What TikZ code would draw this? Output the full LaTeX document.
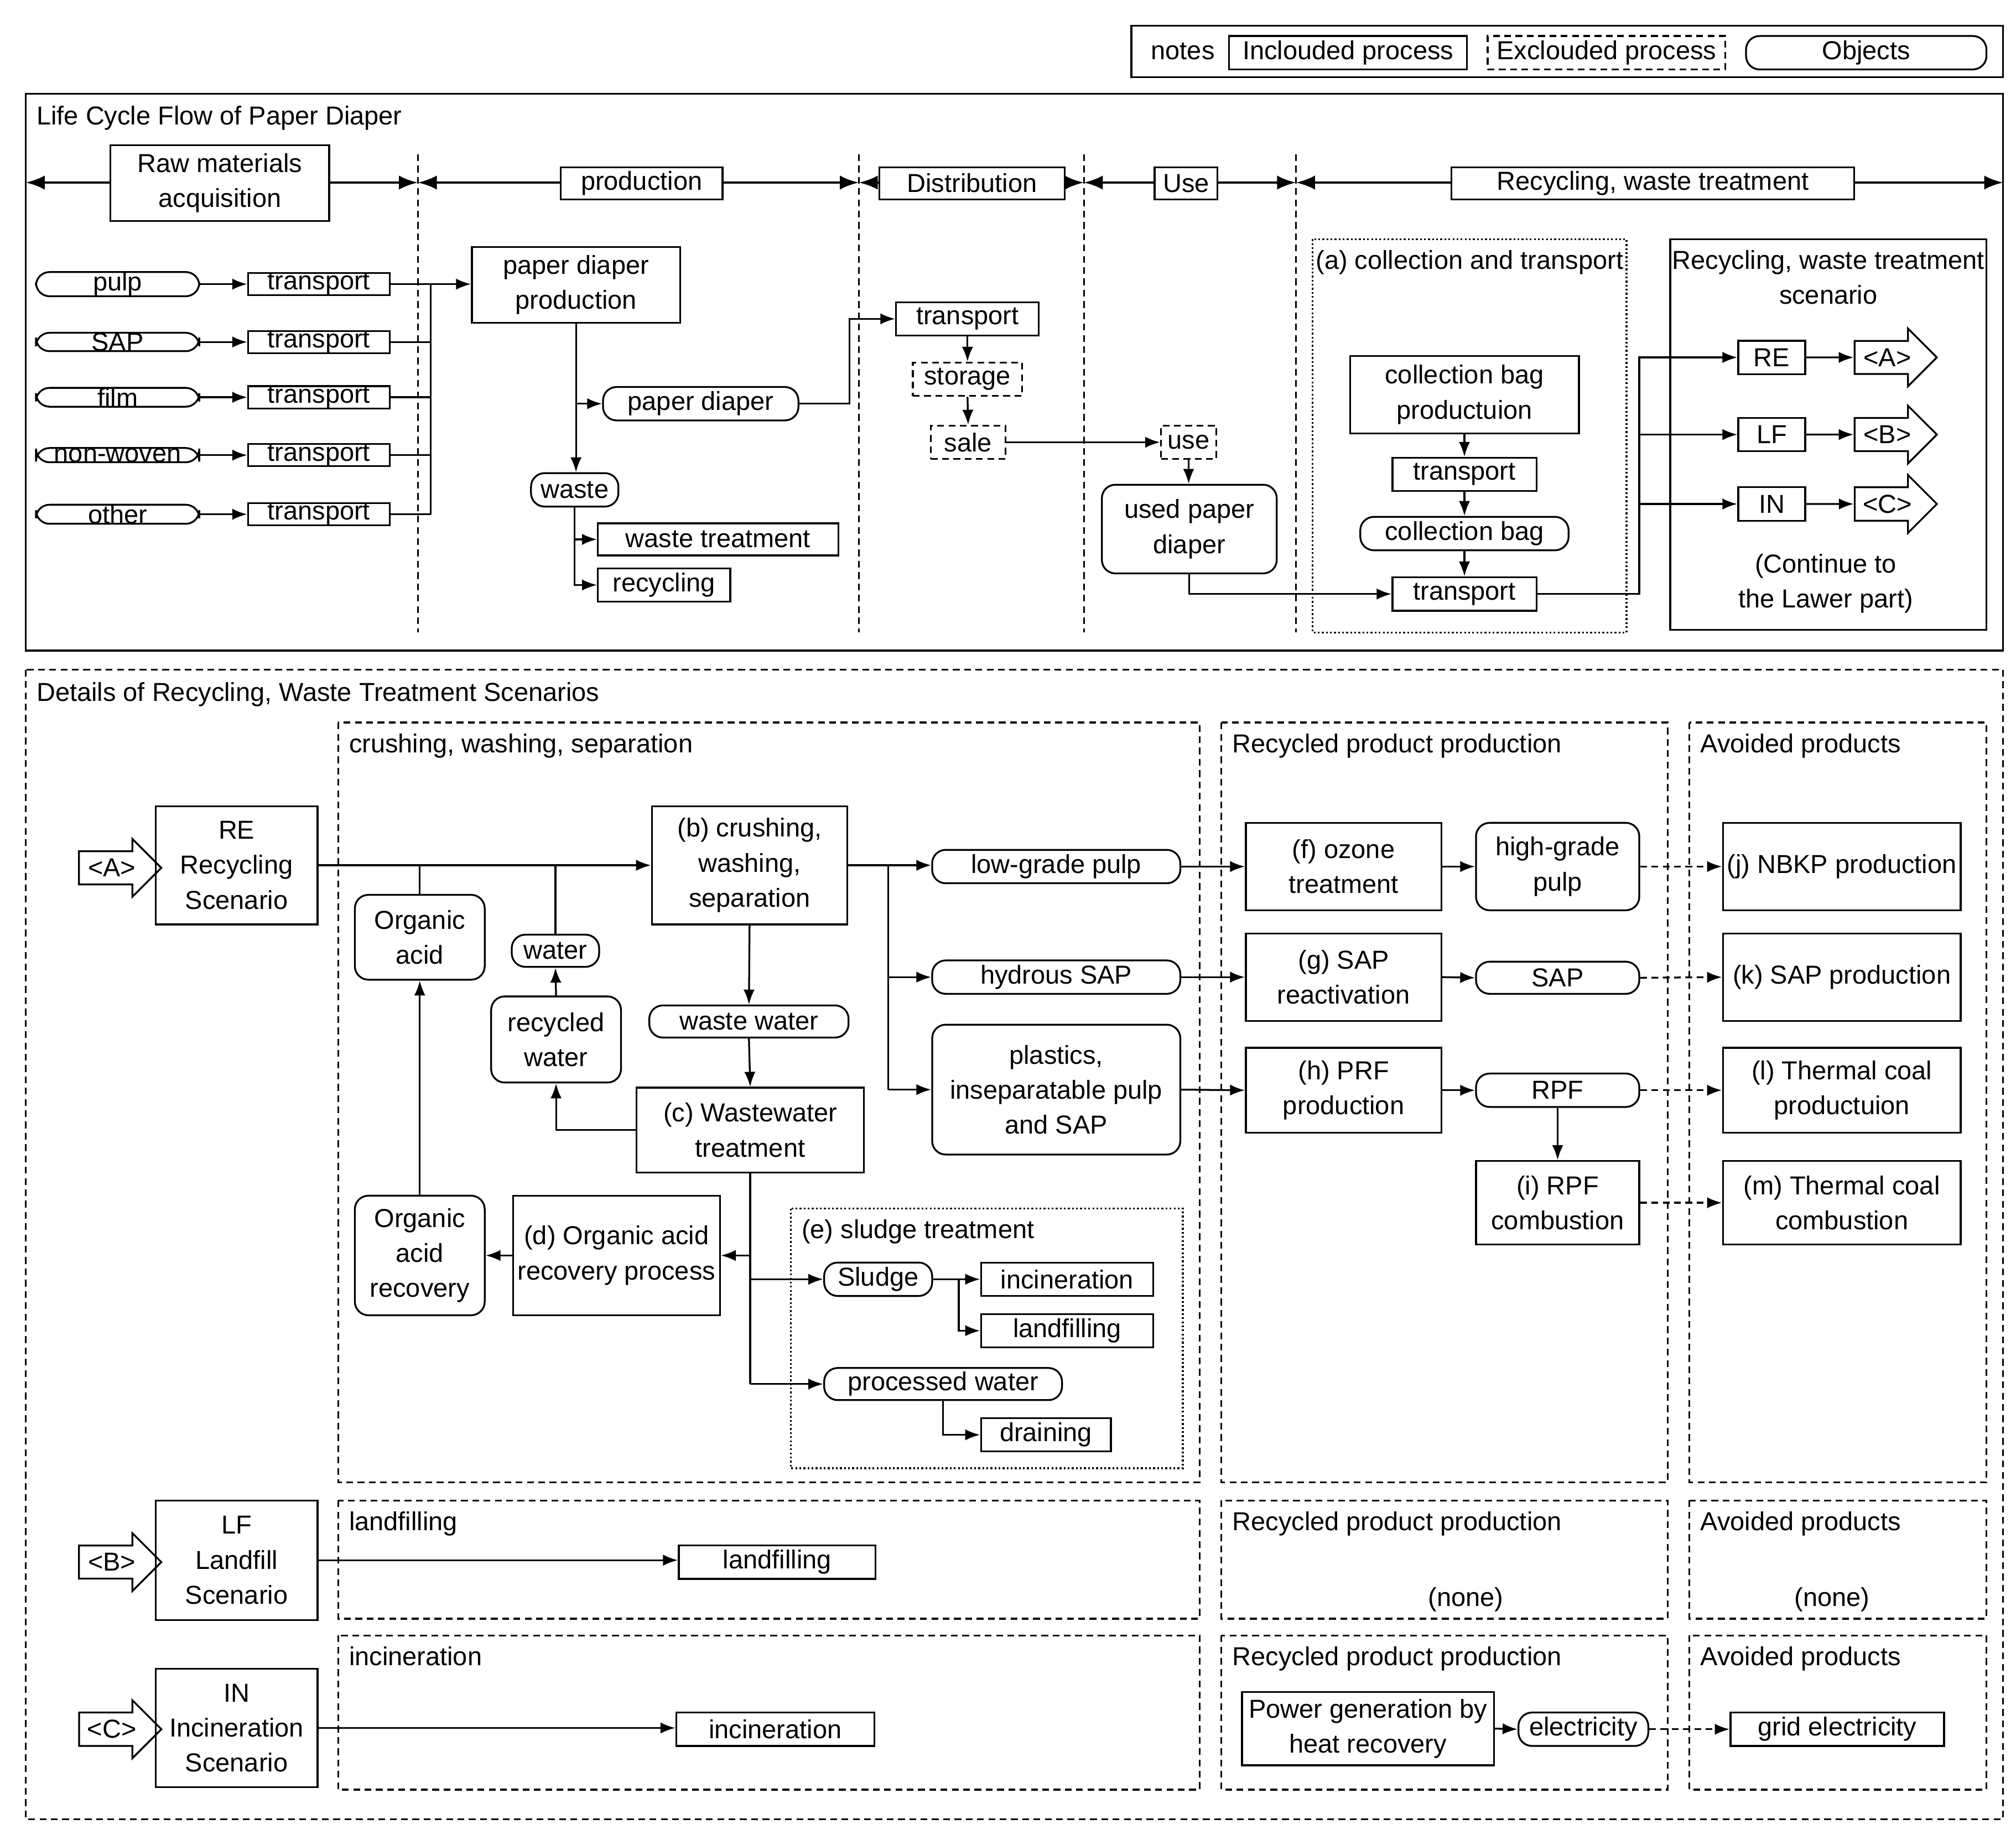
\documentclass[tikz,border=0pt]{standalone}
\usepackage{fontspec}
\setmainfont{Liberation Sans}
\usetikzlibrary{positioning, arrows.meta, shapes.arrows}

\tikzset{
  box/.style={draw, inner sep=0pt, align=center},
  bb/.style args={#1/#2/#3/#4}{minimum width={(#3-#1)*0.02cm}, minimum height={(#4-#2)*0.02cm},
                               at={({(#1+#3)/2},{(#2+#4)/2})}},
  inc/.style={box},
  exc/.style={box, densely dashed},
  obj/.style={box, rounded corners=6pt},
  arr/.style={-Latex},
  darr/.style={-Latex, densely dashed},
  sarrow/.style={draw, fill=white, single arrow, single arrow head extend=4pt,
                 minimum height=1.28cm, minimum width=0.9cm, inner sep=1pt},
}

\begin{document}
\begin{tikzpicture}[x=0.02cm, y=-0.02cm, line width=0.8pt,
                    every node/.style={font=\fontsize{11.5}{15.5}\selectfont}]
\useasboundingbox (0,0) rectangle (1568,1431);

% legend
\draw (880,20) rectangle (1558,60);
\node at (920,40) {notes};
\node[inc, bb=956/28/1141/54] (lgi) {Inclouded process};
\node[exc, bb=1157/28/1342/54] (lge) {Exclouded process};
\node[obj, bb=1358/28/1545/54] (lgo) {Objects};

% upper part
\draw (20,73) rectangle (1558,506);
\node[anchor=north west] at (22,76) {Life Cycle Flow of Paper Diaper};
\foreach \a/\b in {20/325, 325/668, 668/843, 843/1008, 1008/1558}
  \draw[Latex-Latex, line width=1.2pt] (\a,142) -- (\b,142);
\foreach \x in {325,668,843,1008}
  \draw[densely dashed] (\x,120) -- (\x,492);
\node[inc, fill=white, bb=86/113/256/172] (st1) {Raw materials\\acquisition};
\node[inc, fill=white, bb=436/130/562/155] (st2) {production};
\node[inc, fill=white, bb=684/130/828/155] (st3) {Distribution};
\node[inc, fill=white, bb=898/130/947/155] (st4) {Use};
\node[inc, fill=white, bb=1129/130/1442/155] (st5) {Recycling, waste treatment};

% raw materials
\foreach \t/\y [count=\i] in {pulp/221, SAP/266, film/309, non-woven/354, other/400} {
  \node[obj, bb=28/\y-13/155/\y+13] (raw\i) {\t};
  \node[inc, bb=193/\y-13/303/\y+13] (tr\i) {transport};
  \draw[arr] (raw\i) -- (tr\i);
  \draw (tr\i.east) -- (335,\y);
}
\coordinate (bus) at (335,221);
\draw (bus) -- (335,400);

% production
\node[inc, bb=367/192/529/251] (prod) {paper diaper\\production};
\draw[arr] (bus) -- (prod.west|-bus);
\node[obj, bb=469/301/621/327] (pd) {paper diaper};
\node[obj, bb=413/368/481/394] (waste) {waste};
\draw[arr] (prod.south) -- (prod.south|-waste.north);
\draw[arr] (prod.south|-pd) -- (pd.west);
\node[inc, bb=465/407/652/432] (wt) {waste treatment};
\node[inc, bb=465/442/568/468] (rec) {recycling};
\draw[arr] (waste.south) |- (rec.west);
\draw[arr] (waste.south|-wt) -- (wt.west);

% distribution and use
\node[inc, bb=697/235/808/261] (tr6) {transport};
\draw[arr] (pd.east) -- ++(39,0) |- (tr6.west);
\node[exc, bb=710/282/795/308] (stor) {storage};
\node[exc, bb=724/331/782/357] (sale) {sale};
\draw[arr] (tr6.south) -- (stor.north);
\draw[arr] (stor.south) -- (sale.north);
\node[exc, bb=903/331/946/357] (use) {use};
\draw[arr] (sale.east) -- (use.west);
\node[obj, bb=857/377/993/446] (used) {used paper\\diaper};
\draw[arr] (use.south) -- (use.south|-used.north);

% collection
\draw[densely dotted] (1021,186) rectangle (1265,492);
\node[anchor=north] at (1143,188) {(a) collection and transport};
\node[inc, bb=1050/277/1228/337] (cbp) {collection bag\\productuion};
\node[inc, bb=1083/356/1195/382] (tr7) {transport};
\node[obj, bb=1058/402/1220/428] (cbag) {collection bag};
\node[inc, bb=1083/449/1195/475] (tr9) {transport};
\draw[arr] (cbp.south) -- (tr7.north);
\draw[arr] (tr7.south) -- (cbag.north);
\draw[arr] (cbag.south) -- (tr9.north);
\draw[arr] (used.south) |- (tr9.west);

% scenarios
\draw (1299,186) rectangle (1545,490);
\node[anchor=north, align=center] at (1422,188) {Recycling, waste treatment\\scenario};
\node[inc, bb=1352/265/1404/291] (reT) {RE};
\node[inc, bb=1352/325/1404/351] (lfT) {LF};
\node[inc, bb=1352/379/1404/405] (inT) {IN};
\coordinate (sb) at (1275,462);
\draw[arr] (tr9.east) -- (sb) |- (reT.west);
\draw[arr] (sb|-lfT) -- (lfT.west);
\draw[arr] (sb|-inT) -- (inT.west);
\node[sarrow] (saA) at (1468,278) {<A>};
\node[sarrow] (saB) at (1468,338) {<B>};
\node[sarrow] (saC) at (1468,392) {<C>};
\draw[arr] (reT.east) -- (saA.west);
\draw[arr] (lfT.east) -- (saB.west);
\draw[arr] (inT.east) -- (saC.west);
\node[align=center] at (1420,454) {(Continue to\\the Lawer part)};

% lower part
\draw[densely dashed] (20,521) rectangle (1558,1415);
\node[anchor=north west] at (22,524) {Details of Recycling, Waste Treatment Scenarios};
\foreach \ya/\yb/\t in {562/1153/{crushing, washing, separation}, 1167/1259/landfilling, 1272/1392/incineration} {
  \draw[densely dashed] (263,\ya) rectangle (933,\yb);
  \node[anchor=north west] at (265,\ya+2) {\t};
  \draw[densely dashed] (950,\ya) rectangle (1297,\yb);
  \node[anchor=north west] at (952,\ya+2) {Recycled product production};
  \draw[densely dashed] (1314,\ya) rectangle (1545,\yb);
  \node[anchor=north west] at (1316,\ya+2) {Avoided products};
}
\node at (1140,1244) {(none)};
\node at (1425,1244) {(none)};

% recycling scenario
\node[sarrow] (sbA) at (87,675) {<A>};
\node[inc, bb=121/627/247/719] (reS) {RE\\Recycling\\Scenario};
\node[inc, bb=507/627/659/719] (crush) {(b) crushing,\\washing,\\separation};
\draw[arr] (reS.east) -- (crush.west);
\node[obj, bb=276/696/377/762] (oa) {Organic\\acid};
\node[obj, bb=398/727/466/752] (water) {water};
\node[obj, bb=382/775/483/842] (rw) {recycled\\water};
\draw (oa.north) -- (oa.north|-reS.east);
\draw (water.north) -- (water.north|-reS.east);
\draw[arr] (rw.north) -- (water.south);
\node[obj, bb=276/930/377/1023] (oar) {Organic\\acid\\recovery};
\draw[arr] (oar.north) -- (oa.south);
\node[obj, bb=505/782/660/807] (ww) {waste water};
\draw[arr] (crush.south) -- (ww.north);
\node[inc, bb=495/846/672/912] (wwt) {(c) Wastewater\\treatment};
\draw[arr] (ww.south) -- (wwt.north);
\draw[arr] (wwt.west) -| (rw.south);
\node[inc, bb=399/930/560/1023] (dop) {(d) Organic acid\\recovery process};
\draw[arr] (wwt.south|-dop.east) -- (dop.east);
\draw[arr] (dop.west) -- (oar.east);

% sludge
\draw[densely dotted] (615,940) rectangle (920,1142);
\node[anchor=north west] at (617,942) {(e) sludge treatment};
\node[obj, bb=641/982/725/1008] (sludge) {Sludge};
\node[inc, bb=763/982/897/1008] (inc1) {incineration};
\node[inc, bb=763/1022/897/1048] (lf1) {landfilling};
\node[obj, bb=641/1064/826/1089] (pw) {processed water};
\node[inc, bb=763/1103/864/1129] (dr) {draining};
\draw (wwt.south) -- (wwt.south|-pw);
\draw[arr] (wwt.south|-sludge) -- (sludge.west);
\draw[arr] (wwt.south|-pw) -- (pw.west);
\draw[arr] (sludge.east) -- (inc1.west);
\path (sludge.east) ++(20,0) coordinate (sj);
\draw[arr] (sj) |- (lf1.west);
\draw[arr] (pw.south) |- (dr.west);

% products
\node[obj, bb=725/661/918/687] (lgp) {low-grade pulp};
\node[obj, bb=725/747/918/773] (hsap) {hydrous SAP};
\node[obj, bb=725/797/918/898] (plas) {plastics,\\inseparatable pulp\\and SAP};
\path (crush.east) ++(31,0) coordinate (cj);
\draw[arr] (crush.east) -- (crush.east-|lgp.west);
\draw (cj) -- (cj|-plas);
\draw[arr] (cj|-hsap) -- (hsap.west);
\draw[arr] (cj|-plas) -- (plas.west);
\node[inc, bb=969/640/1121/708] (f) {(f) ozone\\treatment};
\node[obj, bb=1148/640/1275/708] (hgp) {high-grade\\pulp};
\node[inc, bb=1340/640/1525/708] (j) {(j) NBKP production};
\node[inc, bb=969/726/1121/794] (g) {(g) SAP\\reactivation};
\node[obj, bb=1148/748/1275/773] (sapo) {SAP};
\node[inc, bb=1340/726/1525/794] (k) {(k) SAP production};
\node[inc, bb=969/815/1121/881] (h) {(h) PRF\\production};
\node[obj, bb=1148/835/1275/861] (rpf) {RPF};
\node[inc, bb=1340/815/1525/881] (l) {(l) Thermal coal\\productuion};
\node[inc, bb=1148/903/1275/968] (i) {(i) RPF\\combustion};
\node[inc, bb=1340/903/1525/968] (m) {(m) Thermal coal\\combustion};
\draw[arr] (lgp.east) -- (f.west);
\draw[arr] (f.east) -- (hgp.west);
\draw[darr] (hgp.east) -- (j.west);
\draw[arr] (hsap.east) -- (g.west);
\draw[arr] (g.east) -- (sapo.west);
\draw[darr] (sapo.east) -- (k.west);
\draw[arr] (plas.east) -- (h.west);
\draw[arr] (h.east) -- (rpf.west);
\draw[darr] (rpf.east) -- (l.west);
\draw[arr] (rpf.south) -- (i.north);
\draw[darr] (i.east) -- (m.west);

% landfill scenario
\node[sarrow] (sbB) at (87,1215) {<B>};
\node[inc, bb=121/1167/247/1260] (lfS) {LF\\Landfill\\Scenario};
\node[inc, bb=528/1202/681/1228] (lfB) {landfilling};
\draw[arr] (lfS.east) -- (lfS.east-|lfB.west);

% incineration scenario
\node[sarrow] (sbC) at (87,1345) {<C>};
\node[inc, bb=121/1298/247/1390] (inS) {IN\\Incineration\\Scenario};
\node[inc, bb=526/1332/680/1358] (incB) {incineration};
\draw[arr] (inS.east) -- (inS.east-|incB.west);
\node[inc, bb=966/1316/1162/1373] (pg) {Power generation by\\heat recovery};
\node[obj, bb=1181/1332/1282/1358] (el) {electricity};
\node[inc, bb=1346/1332/1512/1358] (ge) {grid electricity};
\draw[arr] (pg.east) -- (el.west);
\draw[darr] (el.east) -- (ge.west);

\end{tikzpicture}
\end{document}
